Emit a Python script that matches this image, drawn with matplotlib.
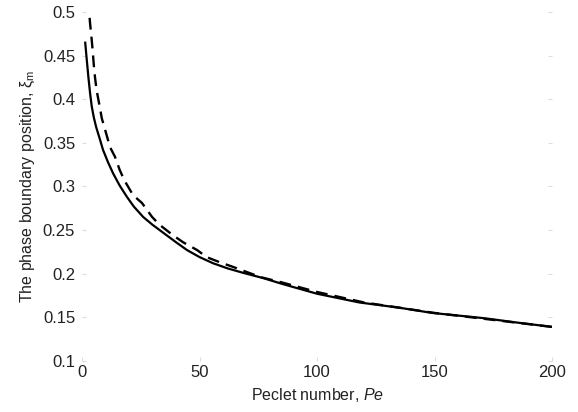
import matplotlib
matplotlib.use("Agg")
import matplotlib.pyplot as plt

plt.rcParams['font.family'] = ['Liberation Sans', 'DejaVu Sans']
plt.rcParams['mathtext.fontset'] = 'custom'
plt.rcParams['mathtext.rm'] = 'Liberation Sans'
plt.rcParams['mathtext.it'] = 'Liberation Sans:italic'

# Solid curve
pe_solid = [1.3, 2, 2.7, 3.4, 4.1, 5, 6, 7.7, 8.9, 11, 13.2, 16, 19.1, 22, 26, 30,
            34.5, 40, 44.7, 50, 55.7, 62, 68.5, 77, 85.5, 100, 118, 135, 149, 171, 185, 200]
xi_solid = [0.466, 0.445, 0.425, 0.407, 0.392, 0.379, 0.368, 0.353, 0.342, 0.328, 0.315,
            0.301, 0.288, 0.277, 0.265, 0.256, 0.247, 0.236, 0.227, 0.219, 0.212, 0.206,
            0.201, 0.195, 0.188, 0.177, 0.167, 0.161, 0.155, 0.149, 0.144, 0.139]

# Dashed curve
pe_dashed = [2.5, 3, 3.4, 4.1, 4.5, 5, 5.5, 6.2, 7.4, 8.4, 9.8, 11.9, 14, 16, 18, 21.7,
             25.5, 29.8, 33, 38.7, 43, 49, 53, 58.7, 64, 70, 76, 85, 100, 120, 150, 175, 200]
xi_dashed = [0.52, 0.50, 0.487, 0.468, 0.456, 0.439, 0.425, 0.410, 0.393, 0.378, 0.365,
             0.345, 0.334, 0.319, 0.307, 0.290, 0.281, 0.265, 0.256, 0.244, 0.236, 0.227,
             0.219, 0.213, 0.208, 0.202, 0.196, 0.190, 0.179, 0.167, 0.155, 0.147, 0.139]

xticks = [0, 50, 100, 150, 200]
yticks = [0.1, 0.15, 0.2, 0.25, 0.3, 0.35, 0.4, 0.45, 0.5]
ytick_labels = ['0.1', '0.15', '0.2', '0.25', '0.3', '0.35', '0.4', '0.45', '0.5']

fig = plt.figure(figsize=(5.78, 4.12), dpi=100)
ax = fig.add_axes([0.142, 0.124, 0.813, 0.847])

ax.plot(pe_solid, xi_solid, color='black', lw=1.6, solid_capstyle='butt')
ax.plot(pe_dashed, xi_dashed, color='black', lw=1.7, dashes=(5, 3))

ax.set_xlim(0, 200)
ax.set_ylim(0.1, 0.5)
ax.set_xticks(xticks)
ax.set_xticklabels([str(t) for t in xticks])
ax.set_yticks(yticks)
ax.set_yticklabels(ytick_labels)

for s in ax.spines.values():
    s.set_visible(False)

ax.tick_params(axis='both', direction='in', length=3, color='#dddddd',
               labelsize=12, labelcolor='#222222')
ax.tick_params(axis='y', pad=5, right=True)
ax.tick_params(axis='x', pad=3, top=False)

ax.set_xlabel(r'Peclet number, $\mathit{Pe}$', fontsize=11.5, color='#222222', labelpad=4)
ax.set_ylabel('The phase boundary position, ξ$_\\mathrm{m}$', fontsize=11.5,
              color='#222222', labelpad=4)

fig.savefig('out.png', dpi=100)
